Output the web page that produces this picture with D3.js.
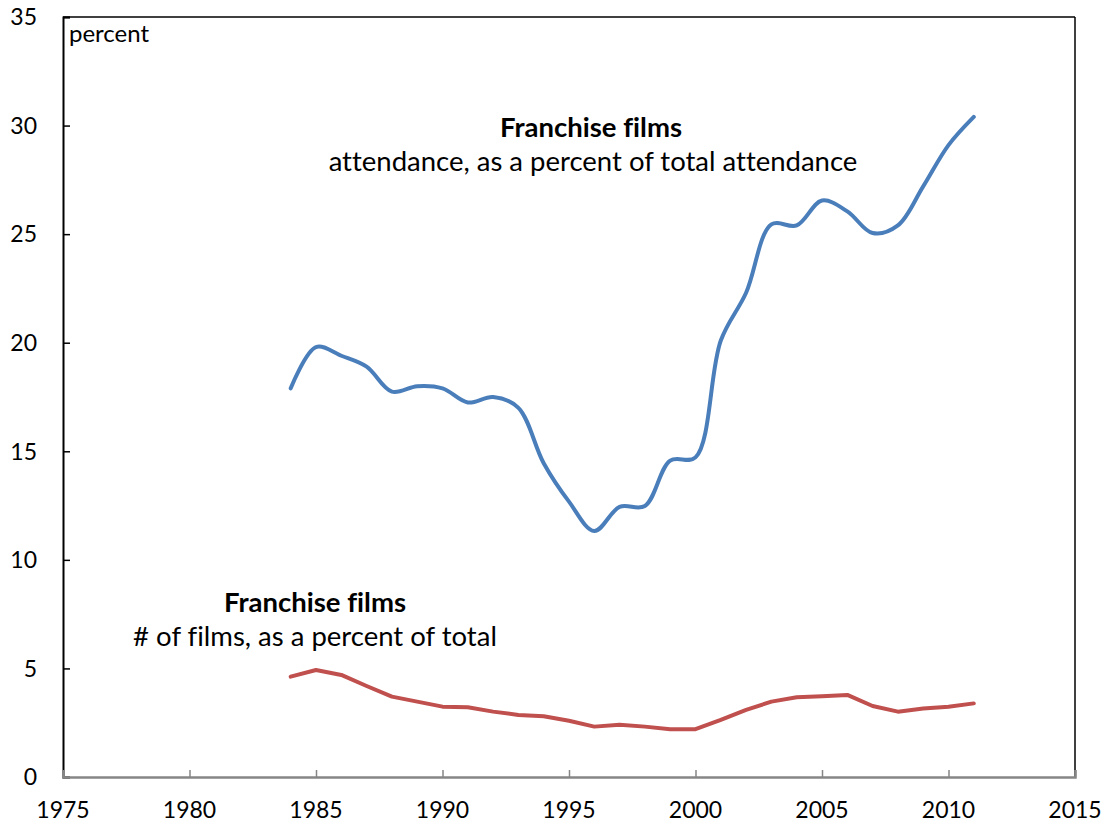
<!DOCTYPE html>
<html>
<head>
<meta charset="utf-8">
<script src="https://cdn.jsdelivr.net/npm/d3@7"></script>
<style>
  html, body { margin: 0; padding: 0; background: #fff; }
  svg { display: block; }
  text { font-family: Lato, "Open Sans", sans-serif; fill: #000; font-variant-ligatures: none; font-feature-settings: "liga" 0; }
</style>
</head>
<body>
<svg id="chart" width="1109" height="824"></svg>
<script>
const years = d3.range(1984, 2012);
const attendanceShare = [17.9, 19.8, 19.4, 18.9, 17.75, 18.0, 17.9, 17.25, 17.5, 17.0,
  14.45, 12.68, 11.33, 12.44, 12.48, 14.57, 14.72, 20.1, 22.3, 25.45,
  25.4, 26.55, 26.05, 25.05, 25.4, 27.2, 29.1, 30.4];
const filmShare = [4.62, 4.93, 4.70, 4.19, 3.70, 3.47, 3.24, 3.21, 3.01, 2.86,
  2.80, 2.59, 2.32, 2.41, 2.32, 2.20, 2.20, 2.63, 3.09, 3.47,
  3.67, 3.72, 3.78, 3.27, 3.01, 3.15, 3.24, 3.39];
const xTicks = [1975, 1980, 1985, 1990, 1995, 2000, 2005, 2010, 2015];
const yTicks = [0, 5, 10, 15, 20, 25, 30, 35];
const yUnitLabel = "percent";
const annotTitle = "Franchise films";
const annotAttendance = "attendance, as a percent of total attendance";
const annotFilms = "# of films, as a percent of total";

const W = 1109, H = 824;
const m = { left: 63, right: 34, top: 17, bottom: 47 };
const svg = d3.select("#chart");

const x = d3.scaleLinear().domain([1975, 2015]).range([m.left, W - m.right]);
const y = d3.scaleLinear().domain([0, 35]).range([H - m.bottom, m.top]);

// frame: top and right borders
svg.append("line").attr("x1", m.left).attr("x2", W - m.right)
  .attr("y1", y(35)).attr("y2", y(35)).attr("stroke", "#000").attr("stroke-width", 1.5);
svg.append("line").attr("x1", W - m.right).attr("x2", W - m.right)
  .attr("y1", y(35)).attr("y2", y(0)).attr("stroke", "#000").attr("stroke-width", 1.5);

// y axis
const yAxis = svg.append("g").attr("transform", `translate(${m.left},0)`)
  .call(d3.axisRight(y).tickValues(yTicks).tickSize(7).tickFormat(""));
yAxis.select(".domain").attr("stroke", "#000").attr("stroke-width", 2);
yAxis.selectAll(".tick line").attr("stroke", "#000").attr("stroke-width", 1.5);
svg.append("g").selectAll("text").data(yTicks).join("text")
  .attr("x", 37).attr("y", d => y(d)).attr("dy", "0.36em")
  .attr("text-anchor", "end").style("font-size", "23px").text(d => d);

// x axis
const xAxis = svg.append("g").attr("transform", `translate(0,${y(0)})`)
  .call(d3.axisTop(x).tickValues(xTicks).tickSize(7).tickFormat(""));
xAxis.select(".domain").attr("stroke", "#868686").attr("stroke-width", 2.5);
xAxis.selectAll(".tick line").attr("stroke", "#868686").attr("stroke-width", 1.5);
svg.append("g").selectAll("text").data(xTicks).join("text")
  .attr("x", d => x(d)).attr("y", 818)
  .attr("text-anchor", "middle").style("font-size", "23px").text(d => d);

// unit label
svg.append("text").attr("x", 69).attr("y", 42).style("font-size", "24px").text(yUnitLabel);

// lines
const blueLine = d3.line().x((d, i) => x(years[i])).y(d => y(d)).curve(d3.curveCatmullRom.alpha(0.5));
const redLine = d3.line().x((d, i) => x(years[i])).y(d => y(d));
svg.append("path").datum(attendanceShare).attr("d", blueLine)
  .attr("fill", "none").attr("stroke", "#4A7EBB").attr("stroke-width", 4)
  .attr("stroke-linecap", "round").attr("stroke-linejoin", "round");
svg.append("path").datum(filmShare).attr("d", redLine)
  .attr("fill", "none").attr("stroke", "#C0504D").attr("stroke-width", 4)
  .attr("stroke-linecap", "round").attr("stroke-linejoin", "round");

// annotations
svg.append("text").attr("x", 591).attr("y", 137).attr("text-anchor", "middle")
  .style("font-size", "27.5px").style("font-weight", "bold").text(annotTitle);
svg.append("text").attr("x", 593).attr("y", 171).attr("text-anchor", "middle")
  .style("font-size", "27.5px").text(annotAttendance);
svg.append("text").attr("x", 315).attr("y", 612).attr("text-anchor", "middle")
  .style("font-size", "27.5px").style("font-weight", "bold").text(annotTitle);
svg.append("text").attr("x", 315).attr("y", 646).attr("text-anchor", "middle")
  .style("font-size", "27.5px").text(annotFilms);
</script>
</body>
</html>
